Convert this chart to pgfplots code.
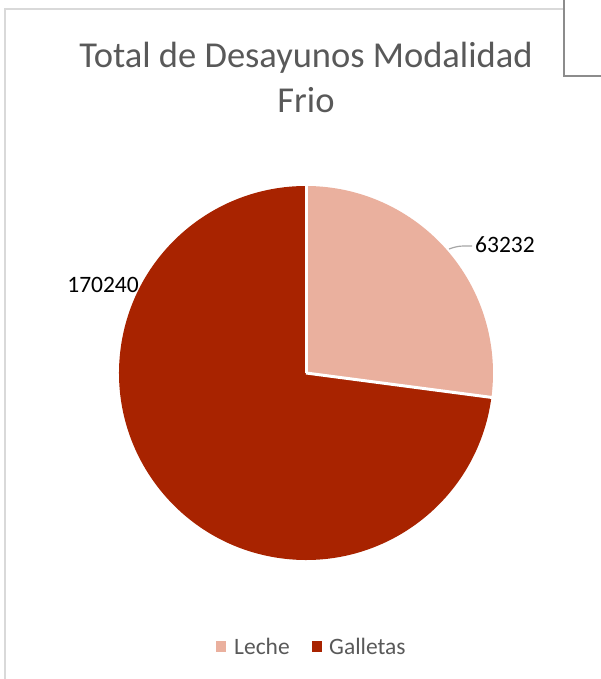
\documentclass[border=0pt]{standalone}
\usepackage{fontspec}
\setmainfont{Carlito}
\usepackage{pgfplots}
\pgfplotsset{compat=1.18}

\definecolor{leche}{HTML}{EAB09E}
\definecolor{galletas}{HTML}{A82300}
\definecolor{titlegray}{HTML}{595959}

% data
\def\vLeche{63232}
\def\vGalletas{170240}
\edef\angL{\fpeval{90-360*\vLeche/(\vLeche+\vGalletas)}}

\begin{document}
\begin{tikzpicture}
\useasboundingbox (0,0) rectangle (601pt,679pt);
\begin{axis}[
    at={(0,0)}, anchor=south west,
    scale only axis, width=601pt, height=679pt,
    xmin=0, xmax=601, ymin=0, ymax=679,
    hide axis, clip=false
]
% frame
\draw[black!15, line width=1.5pt] (axis cs:5,0) -- (axis cs:5,670) -- (axis cs:564,670);
\draw[black!45, line width=1.5pt] (axis cs:564,679) -- (axis cs:564,603) -- (axis cs:601,603);

% title
\node[font=\fontsize{36.5}{45}\selectfont, text=titlegray, align=center, inner sep=0]
  at (axis cs:306,602) {Total de Desayunos Modalidad\\Frio};

% slices
\fill[leche] (axis cs:306,306) -- ++(90:187pt) arc[start angle=90, end angle=\angL, radius=187pt] -- cycle;
\fill[galletas] (axis cs:306,306) -- ++(\angL:187pt) arc[start angle=\angL, end angle=-270, radius=187pt] -- cycle;
\draw[white, line width=3pt] (axis cs:306,306) -- ++(90:188pt);
\draw[white, line width=3pt] (axis cs:306,306) -- ++(\angL:188pt);

% data labels
\draw[black!35, line width=1.2pt] (axis cs:449,430) .. controls (axis cs:458,433) .. (axis cs:472,433);
\node[font=\fontsize{23.5}{26}\selectfont, anchor=west, inner sep=0] at (axis cs:475,434) {63232};
\node[font=\fontsize{23.5}{26}\selectfont, anchor=east, inner sep=0] at (axis cs:139,394) {170240};

% legend
\fill[leche] (axis cs:216,27) rectangle (axis cs:226,38);
\node[font=\fontsize{23.5}{26}\selectfont, text=titlegray, anchor=west, inner sep=0] at (axis cs:234,33) {Leche};
\fill[galletas] (axis cs:312,27) rectangle (axis cs:322,38);
\node[font=\fontsize{23.5}{26}\selectfont, text=titlegray, anchor=west, inner sep=0] at (axis cs:329,33) {Galletas};
\end{axis}
\end{tikzpicture}
\end{document}
